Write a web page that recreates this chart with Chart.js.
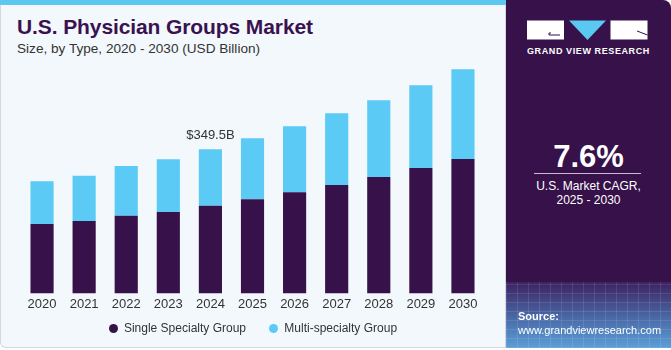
<!DOCTYPE html>
<html>
<head>
<meta charset="utf-8">
<script src="https://cdn.jsdelivr.net/npm/chart.js@4"></script>
<style>
  /* ---- 全体レイアウト ---- */
  html, body { margin: 0; padding: 0; background: #ffffff; }
  body { width: 671px; height: 350px; position: relative; overflow: hidden;
         font-family: "Liberation Sans", Arial, sans-serif; }
  #left { position: absolute; left: 0; top: 0; width: 504px; height: 347px;
          background: #f3f8fc; border: 1px solid #d4d8dc; border-top: none;
          border-radius: 0 0 0 6px; }
  #stripe { position: absolute; left: 0; top: 0; width: 510px; height: 5px; background: #5bc8f2; }
  #title { position: absolute; left: 17px; top: 15px; font-size: 21px; font-weight: bold;
           color: #3a1250; letter-spacing: -0.1px; }
  #subtitle { position: absolute; left: 17px; top: 41px; font-size: 13.6px; color: #333; }
  #chart { position: absolute; left: 0; top: 0; }
  #legend { position: absolute; top: 321px; left: 0; width: 506px; text-align: center;
            font-size: 12px; color: #333; }
  #legend span.item { display: inline-block; margin: 0 10px; }
  #legend i { display: inline-block; width: 9px; height: 9px; border-radius: 50%;
              margin-right: 6px; vertical-align: -0.5px; }
  #right { position: absolute; left: 506px; top: 0; width: 165px; height: 348px;
           background: #37114a; border-radius: 0 8px 0 0; overflow: hidden; color: #fff; }
  #grid { position: absolute; left: 0; bottom: 0; width: 100%; height: 66px;
          background:
            repeating-linear-gradient(90deg, rgba(255,255,255,0.10) 0 1px, transparent 1px 11px),
            repeating-linear-gradient(0deg, rgba(255,255,255,0.10) 0 1px, transparent 1px 9px),
            linear-gradient(180deg, #3d2260 0%, #4a6aa8 55%, #5a9fd8 100%); }
  #logoText { position: absolute; left: 21px; top: 46px; font-size: 9px; font-weight: bold;
              letter-spacing: 0.6px; color: #fff; }
  #cagr { position: absolute; left: 0; width: 165px; top: 139px; text-align: center;
          font-size: 31px; font-weight: bold; }
  #rule { position: absolute; left: 28px; top: 173px; width: 107px; height: 1px; background: #c9bcd2; }
  #cagrText { position: absolute; left: 0; width: 165px; top: 179px; text-align: center;
              font-size: 12px; line-height: 14px; }
  #source { position: absolute; left: 12px; top: 309px; font-size: 11px; line-height: 14px; }
</style>
</head>
<body>
<div id="left"></div>
<div id="stripe"></div>
<div id="title">U.S. Physician Groups Market</div>
<div id="subtitle">Size, by Type, 2020 - 2030 (USD Billion)</div>
<canvas id="chart" width="506" height="350"></canvas>
<div id="legend">
  <span class="item"><i style="background:#37114a"></i>Single Specialty Group</span>
  <span class="item"><i style="background:#5bcaf5"></i>Multi-specialty Group</span>
</div>
<div id="right">
  <svg style="position:absolute;left:0;top:0" width="165" height="45">
    <rect x="21" y="20.5" width="37" height="19" fill="#fff"/>
    <polyline points="45,33 43,33 43,35 54,35" fill="none" stroke="#37114a" stroke-width="1"/>
    <polygon points="63,20.5 100,20.5 81.5,40" fill="#5bc8f2"/>
    <rect x="104.5" y="20.5" width="37" height="19" fill="#fff"/>
    <polyline points="131,31 141.5,35" fill="none" stroke="#37114a" stroke-width="1"/>
  </svg>
  <div id="logoText">GRAND VIEW RESEARCH</div>
  <div id="cagr">7.6%</div>
  <div id="rule"></div>
  <div id="cagrText">U.S. Market CAGR,<br>2025 - 2030</div>
  <div id="grid"></div>
  <div id="source"><b>Source:</b><br>www.grandviewresearch.com</div>
</div>

<script>
/* --------- データ --------- */
const years = ["2020","2021","2022","2023","2024","2025","2026","2027","2028","2029","2030"];
// 単一専門グループ（USD Billion）
const singleSpecialty = [168.2, 175.5, 188.3, 197.3, 212.6, 228.1, 245.1, 262.8, 282.3, 304.1, 325.9];
// 複数専門グループ（USD Billion）
const multiSpecialty = [103.6, 109.9, 120.7, 127.9, 136.9, 148.1, 160.2, 174.1, 186.1, 200.7, 217.7];
// 棒の上に表示するラベル（2024 のみ）
const barLabels = ["", "", "", "", "$349.5B", "", "", "", "", "", ""];

const purple = "#37114a";
const blue = "#5bcaf5";

/* --------- 棒の上のラベル描画 --------- */
const topLabelPlugin = {
  id: "topLabel",
  afterDatasetsDraw(chart) {
    const ctx = chart.ctx;
    const meta = chart.getDatasetMeta(1);
    ctx.save();
    ctx.font = "13px 'Liberation Sans', Arial, sans-serif";
    ctx.fillStyle = "#333";
    ctx.textAlign = "center";
    ctx.textBaseline = "middle";
    barLabels.forEach((txt, i) => {
      if (!txt) return;
      const bar = meta.data[i];
      ctx.fillText(txt, bar.x, bar.y - 14);
    });
    ctx.restore();
  },
};

new Chart(document.getElementById("chart"), {
  type: "bar",
  data: {
    labels: years,
    datasets: [
      { label: "Single Specialty Group", data: singleSpecialty, backgroundColor: purple,
        categoryPercentage: 1, barPercentage: 0.55 },
      { label: "Multi-specialty Group", data: multiSpecialty, backgroundColor: blue,
        categoryPercentage: 1, barPercentage: 0.55 },
    ],
  },
  options: {
    responsive: false,
    animation: false,
    devicePixelRatio: 1,
    layout: { padding: { left: 21, right: 22, top: 60, bottom: 35 } },
    plugins: { legend: { display: false }, tooltip: { enabled: false } },
    scales: {
      x: {
        stacked: true,
        grid: { display: false, drawTicks: false },
        border: { display: false },
        ticks: { color: "#333", font: { size: 13, family: "'Liberation Sans', Arial, sans-serif" }, padding: 3 },
      },
      y: { stacked: true, display: false, min: 0, max: 566 },
    },
  },
  plugins: [topLabelPlugin],
});
</script>
</body>
</html>
